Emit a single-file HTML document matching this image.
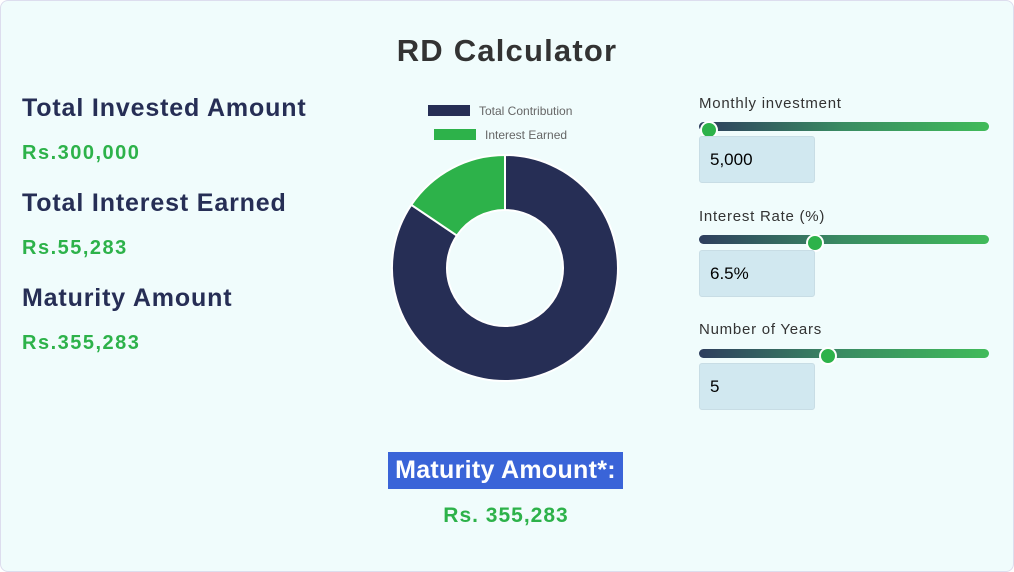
<!DOCTYPE html>
<html><head><style>
body{margin:0;width:1014px;height:572px;background:#fff;font-family:"Liberation Sans",sans-serif;overflow:hidden;position:relative}
.card{position:absolute;left:0;top:0;width:1012px;height:570px;background:#f0fcfc;border:1px solid #dde;border-radius:8px}
.a{position:absolute;white-space:nowrap}
.h{font-size:25px;font-weight:bold;color:#262e55;left:22px;letter-spacing:0.85px}
.v{font-size:20px;font-weight:bold;color:#2db24a;left:22px;letter-spacing:1.5px}
.lbl{font-size:15px;color:#333;left:699px;letter-spacing:0.75px}
.track{position:absolute;left:699px;width:290px;height:9px;border-radius:5px;background:linear-gradient(90deg,#2e3e5e,#3a8c62 50%,#40bb5a)}
.thumb{position:absolute;width:14px;height:14px;border-radius:50%;background:#2db24a;border:2px solid #fff}
.inp{position:absolute;left:699px;width:114px;height:45px;background:#d1e8f0;border:1px solid #c8dde5;border-radius:3px;font-size:17px;color:#000;line-height:45px;text-indent:10px}
</style></head><body>
<div class="card"></div>
<div class="a" style="left:0;width:1014px;text-align:center;top:33px;font-size:31px;font-weight:bold;color:#333;letter-spacing:1.2px">RD Calculator</div>
<div class="a h" style="top:94px">Total Invested Amount</div>
<div class="a v" style="top:142px">Rs.300,000</div>
<div class="a h" style="top:189px">Total Interest Earned</div>
<div class="a v" style="top:237px">Rs.55,283</div>
<div class="a h" style="top:284px">Maturity Amount</div>
<div class="a v" style="top:332px">Rs.355,283</div>

<svg class="a" style="left:0;top:0" width="1014" height="572">
<rect x="428" y="105" width="42" height="11" fill="#262e55"/>
<text x="479" y="115" font-size="12" fill="#666" font-family="Liberation Sans">Total Contribution</text>
<rect x="434" y="129" width="42" height="11" fill="#2db24a"/>
<text x="485" y="139" font-size="12" fill="#666" font-family="Liberation Sans">Interest Earned</text>
<path d="M505 155 A113 113 0 1 1 411.3 204.8 L456.9 235.6 A58 58 0 1 0 505 210 Z" fill="#262e55" stroke="#fff" stroke-width="2"/>
<path d="M411.3 204.8 A113 113 0 0 1 505 155 L505 210 A58 58 0 0 0 456.9 235.6 Z" fill="#2db24a" stroke="#fff" stroke-width="2"/>
</svg>

<div class="a lbl" style="top:95px">Monthly investment</div>
<div class="track" style="top:122px"></div>
<div class="thumb" style="left:700px;top:121px"></div>
<div class="inp" style="top:136px">5,000</div>

<div class="a lbl" style="top:208px">Interest Rate (%)</div>
<div class="track" style="top:235px"></div>
<div class="thumb" style="left:806px;top:234px"></div>
<div class="inp" style="top:250px">6.5%</div>

<div class="a lbl" style="top:321px">Number of Years</div>
<div class="track" style="top:349px"></div>
<div class="thumb" style="left:819px;top:347px"></div>
<div class="inp" style="top:363px">5</div>

<div class="a" style="left:388px;top:452px;width:235px;height:37px;background:#3a64d8;color:#fff;font-size:25px;font-weight:bold;line-height:37px;text-align:center;letter-spacing:0.3px">Maturity Amount*:</div>
<div class="a" style="left:0;width:1012px;text-align:center;top:504px;font-size:21px;font-weight:bold;color:#2db24a;letter-spacing:1px">Rs. 355,283</div>
</body></html>
